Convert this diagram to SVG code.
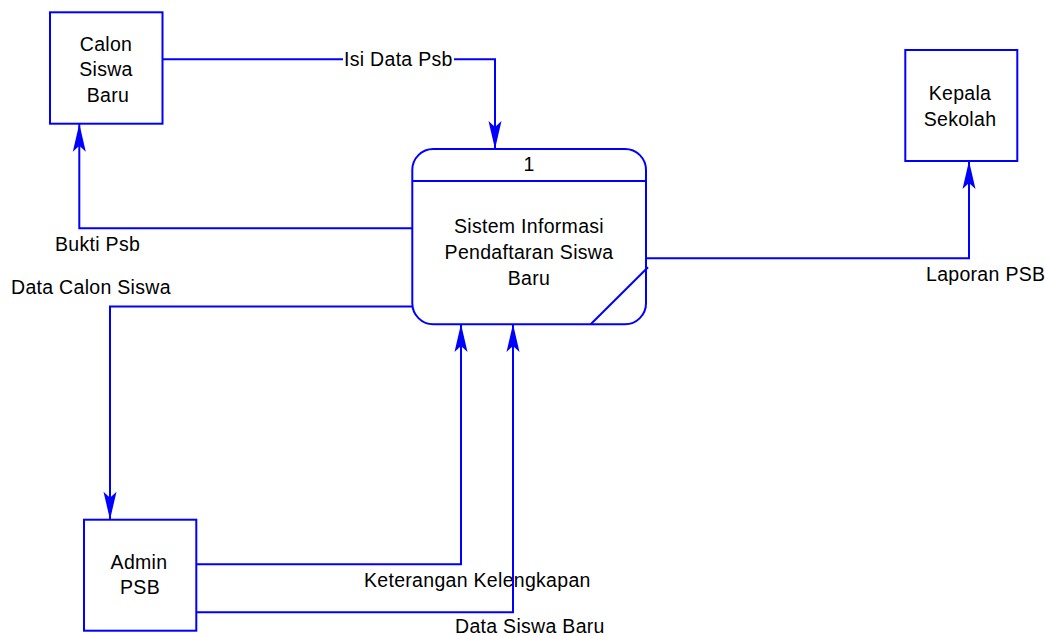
<svg xmlns="http://www.w3.org/2000/svg" width="1045" height="636" viewBox="0 0 1045 636">
  <style>
    .shape { fill: #ffffff; stroke: #0000ff; stroke-width: 2; }
    .flow { fill: none; stroke: #0000ff; stroke-width: 2; marker-end: url(#arrow); }
    .txt { font-family: "Liberation Sans", Arial, sans-serif; font-size: 19.5px; letter-spacing: 0.3px; fill: #000000; }
    .mid { text-anchor: middle; }
  </style>
  <defs>
    <marker id="arrow" markerUnits="userSpaceOnUse" markerWidth="30" markerHeight="16" viewBox="-29 -8 30 16" refX="0" refY="0" orient="auto">
      <path d="M0,0 L-28,-6.5 L-22,0 L-28,6.5 Z" fill="#0000ff"/>
    </marker>
  </defs>
  <rect width="1045" height="636" fill="#ffffff"/>

  <!-- data flows -->
  <g id="connectors">
    <path class="flow" d="M162.5 59.3 H495 V149"/>
    <rect x="343" y="49" width="111" height="20" fill="#ffffff"/>
    <text class="txt" x="344" y="65.5">Isi Data Psb</text>

    <path class="flow" d="M412.3 228.3 H79.3 V123.7"/>
    <text class="txt" x="55" y="250.5">Bukti Psb</text>

    <path class="flow" d="M412.3 306.5 H110 V519.7"/>
    <text class="txt" x="11" y="294.3">Data Calon Siswa</text>

    <path class="flow" d="M646 258.3 H969 V161"/>
    <text class="txt" x="926" y="280.7">Laporan PSB</text>

    <path class="flow" d="M196.3 564.3 H461 V324"/>
    <text class="txt" x="364" y="586.7">Keterangan Kelengkapan</text>

    <path class="flow" d="M196.3 612.3 H513 V324"/>
    <text class="txt" x="455" y="632.5">Data Siswa Baru</text>
  </g>

  <!-- external entities -->
  <g id="calon-siswa-baru">
    <rect class="shape" x="50" y="12.3" width="112.5" height="111.4"/>
    <text class="txt mid" x="106" y="50.7">Calon</text>
    <text class="txt mid" x="106" y="76">Siswa</text>
    <text class="txt mid" x="108" y="101.7">Baru</text>
  </g>

  <g id="kepala-sekolah">
    <rect class="shape" x="905.3" y="50" width="112" height="111"/>
    <text class="txt mid" x="960" y="100">Kepala</text>
    <text class="txt mid" x="960" y="126">Sekolah</text>
  </g>

  <g id="admin-psb">
    <rect class="shape" x="84" y="519.7" width="112.3" height="111"/>
    <text class="txt mid" x="139" y="569.3">Admin</text>
    <text class="txt mid" x="140" y="594.3">PSB</text>
  </g>

  <!-- process 1 -->
  <g id="process-1">
    <rect class="shape" x="412.3" y="149" width="233.7" height="175.3" rx="21" ry="21"/>
    <line x1="412.3" y1="181" x2="646" y2="181" stroke="#0000ff" stroke-width="2"/>
    <line x1="590.7" y1="324.3" x2="648" y2="267.3" stroke="#0000ff" stroke-width="2"/>
    <text class="txt mid" x="529" y="171">1</text>
    <text class="txt mid" x="529" y="232.7">Sistem Informasi</text>
    <text class="txt mid" x="529" y="258.7">Pendaftaran Siswa</text>
    <text class="txt mid" x="529" y="285">Baru</text>
  </g>
</svg>
